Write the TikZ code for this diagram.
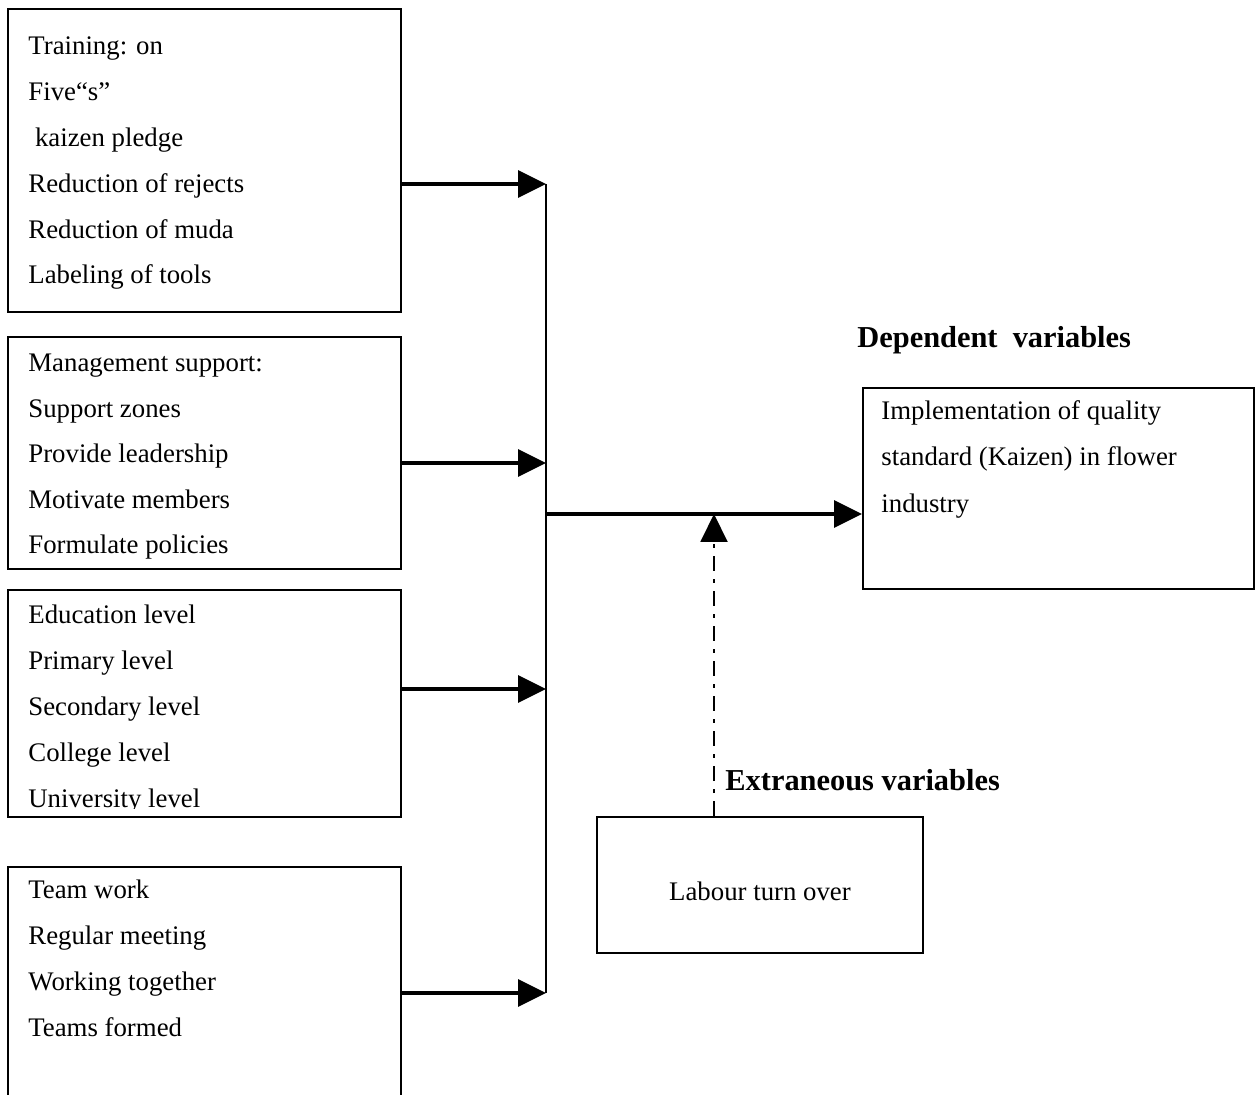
\documentclass[tikz,border=0pt]{standalone}
\usepackage{fontspec}
\setmainfont{Liberation Serif}
\usetikzlibrary{arrows.meta,calc}
\tikzset{
  box/.style     = {draw, line width=1pt, rectangle, inner sep=0pt, anchor=north west},
  item/.style    = {inner sep=0pt, anchor=west, text height=9.5pt, text depth=3pt,
    font=\fontsize{13.4}{16}\selectfont},
  heading/.style = {item, font=\fontsize{15.2}{18}\selectfont\bfseries},
  feed/.style    = {-{Triangle[length=14pt,width=13.5pt]}, line width=1.7pt},
  bus/.style     = {line width=1.1pt},
  extra/.style   = {feed, line width=1pt, dash pattern=on 7.5pt off 4pt on 2pt off 4pt}
}
\begin{document}
\begin{tikzpicture}[x=0.5pt, y=-0.5pt]
  \clip (0,0) rectangle (1258,1095);
  \fill[white] (0,0) rectangle (1258,1095);
  % independent variables, boxes on the left
  \node[box, minimum width=196.5pt, minimum height=151.5pt] (train) at (7,8) {};
  \node[box, minimum width=196.5pt, minimum height=116pt]   (mgmt)  at (7,336) {};
  \node[box, minimum width=196.5pt, minimum height=113.5pt] (edu)   at (7,589) {};
  \node[box, minimum width=196.5pt, minimum height=125pt]   (team)  at (7,866) {};
  % dependent and extraneous variables
  \node[box, minimum width=195.5pt, minimum height=100.5pt] (dep)    at (862,387) {};
  \node[box, minimum width=163pt,   minimum height=68pt]    (labour) at (596,816) {};
  \node[heading] (deptitle) at (857,341) {Dependent\ \ variables};
  \node[heading] (exttitle) at (725,784) {Extraneous variables};
  % texts of the boxes
  \foreach \txt [count=\i from 0] in {Training: on, Five“s”, \ kaizen pledge,
      Reduction of rejects, Reduction of muda, Labeling of tools}
    \node[item] (train\i) at (28,{48.5+45.8*\i}) {\txt};
  \foreach \txt [count=\i from 0] in {Management support:, Support zones,
      Provide leadership, Motivate members, Formulate policies}
    \node[item] (mgmt\i) at (28,{365+45.6*\i}) {\txt};
  \begin{scope}
    \clip (edu.north west) rectangle ([yshift=5pt]edu.south east);
    \foreach \txt [count=\i from 0] in {Education level, Primary level,
        Secondary level, College level, University level}
      \node[item] (edu\i) at (28,{617+46*\i}) {\txt};
  \end{scope}
  \foreach \txt [count=\i from 0] in {Team work, Regular meeting,
      Working together, Teams formed}
    \node[item] (team\i) at (28,{892+46*\i}) {\txt};
  \foreach \txt [count=\i from 0] in {Implementation of quality,
      standard (Kaizen) in flower, industry}
    \node[item] (dep\i) at (881,{413+46.5*\i}) {\txt};
  \node[item, anchor=center] (labourtxt) at (760,894) {Labour turn over};
  % connectors
  \coordinate (j1) at (546,184);
  \coordinate (j2) at (546,463);
  \coordinate (j3) at (546,689);
  \coordinate (j4) at (546,993);
  \coordinate (jm) at (546,514);
  \coordinate (ex) at (714,514);
  \draw[bus] (j1) -- (j4);
  \foreach \src/\value in {train/1, mgmt/2, edu/3, team/4}
    \draw[feed] (\src.east |- j\value) -- (j\value);
  \draw[feed] (jm) -- (dep.west |- jm);
  \draw[extra] (labour.north -| ex) -- (ex);
\end{tikzpicture}
\end{document}
